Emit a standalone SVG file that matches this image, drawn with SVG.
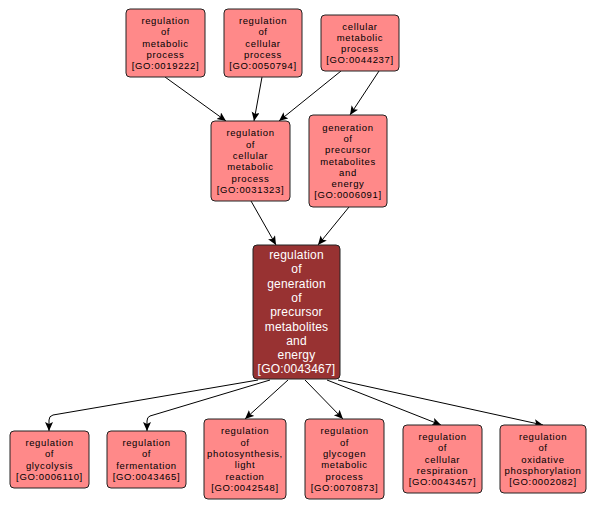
<svg xmlns="http://www.w3.org/2000/svg" width="598" height="509" viewBox="0 0 598 509">
<style>
.n rect{fill:#ff8989;stroke:#222;stroke-width:1}
.n text{font-family:"Liberation Sans",Arial,sans-serif;font-size:9.5px;letter-spacing:0.65px;text-anchor:middle;fill:#000}
.c rect{fill:#983232;stroke:#222;stroke-width:1}
.c text{font-family:"Liberation Sans",Arial,sans-serif;font-size:12px;letter-spacing:0.2px;text-anchor:middle;fill:#fff}
.e path{fill:none;stroke:#000;stroke-width:1;marker-end:url(#ah)}
</style>
<defs>
<marker id="ah" markerWidth="10" markerHeight="10" refX="9" refY="4" orient="auto" markerUnits="userSpaceOnUse">
<path d="M0,0 L9,4 L0,8 L2,4 Z" fill="#000"/>
</marker>
</defs>
<rect width="598" height="509" fill="#fff"/>
<g id="edges" class="e">
<path d="M165,77 L226,121"/>
<path d="M262,77 L254,121"/>
<path d="M341,71 L279,121"/>
<path d="M379,71 L350,115"/>
<path d="M251,201 L276,245"/>
<path d="M349,207 L318,245"/>
<path d="M258,380 L53,415 Q49,416 49,420 L49,431"/>
<path d="M270,380 L150,416 Q147,417 147,421 L147,431"/>
<path d="M288,380 L245,419"/>
<path d="M305,380 L343,419"/>
<path d="M327,380 L441,425"/>
<path d="M338,380 L543,425"/>
</g>
<g id="GO0019222" class="n"><rect x="126" y="9" width="79" height="68" rx="4"/>
<text x="165.5" y="24">regulation</text><text x="165.5" y="35.3">of</text><text x="165.5" y="46.6">metabolic</text><text x="165.5" y="57.9">process</text><text x="165.5" y="69.2">[GO:0019222]</text></g>
<g id="GO0050794" class="n"><rect x="224" y="9" width="78" height="68" rx="4"/>
<text x="263" y="24">regulation</text><text x="263" y="35.3">of</text><text x="263" y="46.6">cellular</text><text x="263" y="57.9">process</text><text x="263" y="69.2">[GO:0050794]</text></g>
<g id="GO0044237" class="n"><rect x="321" y="15" width="78" height="56" rx="4"/>
<text x="360" y="29.5">cellular</text><text x="360" y="40.8">metabolic</text><text x="360" y="52.1">process</text><text x="360" y="63.4">[GO:0044237]</text></g>
<g id="GO0031323" class="n"><rect x="211" y="121" width="79" height="80" rx="4"/>
<text x="250.5" y="136.3">regulation</text><text x="250.5" y="147.6">of</text><text x="250.5" y="158.9">cellular</text><text x="250.5" y="170.2">metabolic</text><text x="250.5" y="181.5">process</text><text x="250.5" y="192.8">[GO:0031323]</text></g>
<g id="GO0006091" class="n"><rect x="309" y="115" width="78" height="92" rx="4"/>
<text x="348" y="130.6">generation</text><text x="348" y="141.9">of</text><text x="348" y="153.2">precursor</text><text x="348" y="164.5">metabolites</text><text x="348" y="175.8">and</text><text x="348" y="187.1">energy</text><text x="348" y="198.4">[GO:0006091]</text></g>
<g id="GO0043467" class="c"><rect x="253" y="245" width="87" height="134" rx="4"/>
<text x="296.5" y="259">regulation</text><text x="296.5" y="273.3">of</text><text x="296.5" y="287.6">generation</text><text x="296.5" y="301.9">of</text><text x="296.5" y="316.2">precursor</text><text x="296.5" y="330.5">metabolites</text><text x="296.5" y="344.8">and</text><text x="296.5" y="359.1">energy</text><text x="296.5" y="373.4">[GO:0043467]</text></g>
<g id="GO0006110" class="n"><rect x="10" y="431" width="79" height="57" rx="4"/>
<text x="49.5" y="446">regulation</text><text x="49.5" y="457.3">of</text><text x="49.5" y="468.6">glycolysis</text><text x="49.5" y="479.9">[GO:0006110]</text></g>
<g id="GO0043465" class="n"><rect x="107" y="431" width="79" height="57" rx="4"/>
<text x="146.5" y="446">regulation</text><text x="146.5" y="457.3">of</text><text x="146.5" y="468.6">fermentation</text><text x="146.5" y="479.9">[GO:0043465]</text></g>
<g id="GO0042548" class="n"><rect x="204" y="419" width="82" height="80" rx="4"/>
<text x="245" y="434.3">regulation</text><text x="245" y="445.6">of</text><text x="245" y="456.9">photosynthesis,</text><text x="245" y="468.2">light</text><text x="245" y="479.5">reaction</text><text x="245" y="490.8">[GO:0042548]</text></g>
<g id="GO0070873" class="n"><rect x="305" y="419" width="79" height="80" rx="4"/>
<text x="344.5" y="434.3">regulation</text><text x="344.5" y="445.6">of</text><text x="344.5" y="456.9">glycogen</text><text x="344.5" y="468.2">metabolic</text><text x="344.5" y="479.5">process</text><text x="344.5" y="490.8">[GO:0070873]</text></g>
<g id="GO0043457" class="n"><rect x="403" y="425" width="79" height="68" rx="4"/>
<text x="442.5" y="440">regulation</text><text x="442.5" y="451.3">of</text><text x="442.5" y="462.6">cellular</text><text x="442.5" y="473.9">respiration</text><text x="442.5" y="485.2">[GO:0043457]</text></g>
<g id="GO0002082" class="n"><rect x="500" y="425" width="86" height="68" rx="4"/>
<text x="543" y="440">regulation</text><text x="543" y="451.3">of</text><text x="543" y="462.6">oxidative</text><text x="543" y="473.9">phosphorylation</text><text x="543" y="485.2">[GO:0002082]</text></g>
</svg>
